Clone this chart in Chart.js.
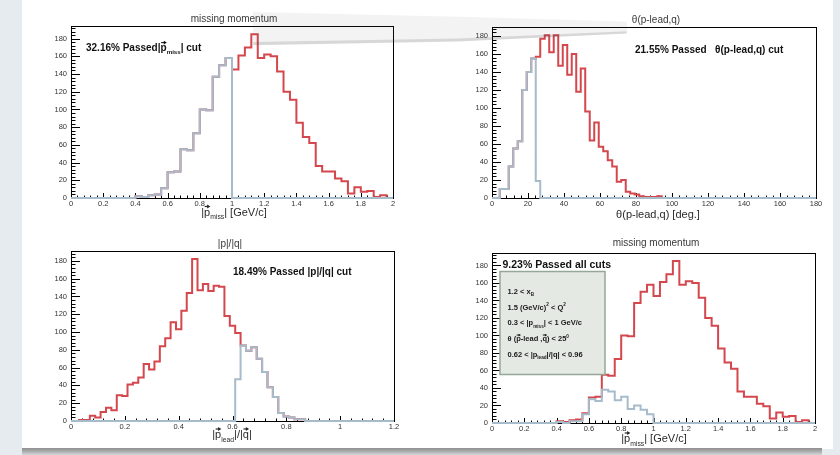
<!DOCTYPE html>
<html>
<head>
<meta charset="utf-8">
<script src="https://cdn.jsdelivr.net/npm/chart.js@4.4.1/dist/chart.umd.min.js"></script>
<style>
  html, body { margin: 0; padding: 0; }
  body { width: 840px; height: 455px; position: relative; overflow: hidden; background: #e6ebef; }
  #sheet { position: absolute; left: 22px; top: 0; width: 811px; height: 449px; background: #fff; }
  #shadow { position: absolute; left: 22px; top: 448px; width: 800px; height: 7px;
            background: linear-gradient(180deg, #8f8f8f 0%, #a9a9a9 45%, #d4d8db 100%); }
  canvas.pad { position: absolute; }
  .glare { position: absolute; left: 253px; top: 10px; width: 374px; height: 38px; pointer-events: none; }
  #glareFill { background: rgba(90,90,90,0.075);
               clip-path: polygon(0 5%, 55% 18%, 100% 30%, 100% 62%, 55% 82%, 0 92%); }
  #glareEdge { background: rgba(70,70,70,0.16); filter: blur(0.8px);
               clip-path: polygon(0 84%, 55% 75%, 100% 56%, 100% 62%, 55% 83%, 0 93%); }
</style>
</head>
<body>
<div id="sheet"></div>
<canvas class="pad" id="c1"></canvas>
<canvas class="pad" id="c2"></canvas>
<canvas class="pad" id="c3"></canvas>
<canvas class="pad" id="c4"></canvas>
<div class="glare" id="glareFill"></div>
<div class="glare" id="glareEdge"></div>
<div id="shadow"></div>
<script>
// ---------------- histogram contents ----------------
// |p_miss| [GeV/c], 0.04 GeV/c bins; first listed bin starts at 0.4
const pmissLow = 0.4;
const pmissWidth = 0.04;
const pmissAll = [2, 1, 3, 4, 11, 29, 30, 55, 54, 73,
                  100, 99, 137, 150, 158, 145, 161, 170, 185, 158,
                  162, 160, 143, 120, 111, 85, 69, 62, 36, 30,
                  30, 22, 19, 5, 12, 7, 8, 1, 3];
// events passing the |p_miss| < 1 GeV/c cut
const pmissPassMiss = [2, 1, 3, 4, 11, 29, 30, 55, 54, 73, 100, 99, 137, 150, 158];
// events passing all cuts
const pmissPassAll = [1, 0, 2, 2, 10, 27, 25, 38, 36, 26, 30, 16, 20, 15, 10];

// theta(p-lead,q) [deg], 2.5 deg bins; first listed bin starts at 4.3 deg
const thetaLow = 4.3;
const thetaWidth = 2.5;
const thetaAll = [10, 10, 35, 55, 63, 120, 140, 155, 157, 177,
                  181, 162, 181, 147, 170, 137, 160, 118, 144, 96,
                  64, 84, 57, 52, 42, 35, 18, 20, 7, 5,
                  4, 2, 1, 1, 1, 2];
const thetaPass = [10, 10, 35, 55, 63, 120, 140, 155, 19];

// |p_lead|/|q|, 0.02 bins; first listed bin starts at 0.03
const ratioLow = 0.03;
const ratioWidth = 0.02;
const ratioAll = [1, 1, 6, 4, 10, 15, 12, 29, 28, 41,
                  43, 49, 64, 58, 67, 84, 93, 111, 103, 124,
                  144, 182, 147, 154, 146, 152, 151, 118, 107, 99,
                  85, 79, 83, 70, 55, 38, 27, 9, 5, 4,
                  2, 2];
const ratioPassLow = 0.61;
const ratioPass = [47, 85, 79, 83, 70, 55, 38, 27, 9, 5, 4, 2, 2];

// axis tick settings: [major step, minor step]
const pmissTicks = [0.2, 0.04];
const thetaTicks = [20, 4];
const ratioTicks = [0.2, 0.04];
const countTicks = [20, 4];

// ---------------- drawing helpers ----------------
const FONT = '"Liberation Sans", Arial, Helvetica, sans-serif';
const RED = '#d3474d';
const BLUE = '#a7bccb';

function histPoints(low, width, counts, xmin, xmax) {
  const pts = [{ x: xmin, y: 0 }];
  counts.forEach((c, i) => pts.push({ x: low + i * width, y: c }));
  pts.push({ x: low + counts.length * width, y: 0 });
  pts.push({ x: xmax, y: 0 });
  return pts;
}

function fontStr(size, bold) { return (bold ? 'bold ' : '') + size + 'px ' + FONT; }

// text made of pieces; pieces may be subscripts, superscripts or carry a vector arrow
function drawRich(ctx, segs, x, y, o) {
  const size = o.size || 10, bold = !!o.bold;
  const items = [];
  let w = 0;
  for (const s of segs) {
    const fs = (s.sub || s.sup) ? size * 0.62 : size;
    ctx.font = fontStr(fs, bold);
    const sw = ctx.measureText(s.t).width;
    items.push({ s, fs, x: w, w: sw });
    w += sw;
  }
  const x0 = o.align === 'center' ? x - w / 2 : x;
  ctx.save();
  ctx.fillStyle = o.color || '#222';
  ctx.strokeStyle = o.color || '#222';
  ctx.textAlign = 'left';
  ctx.textBaseline = 'alphabetic';
  for (const it of items) {
    ctx.font = fontStr(it.fs, bold);
    let yy = y;
    if (it.s.sub) yy += size * 0.34;
    if (it.s.sup) yy -= size * 0.42;
    ctx.fillText(it.s.t, x0 + it.x, yy);
    if (it.s.vec) {
      const ay = y - size * 0.82;
      const ax0 = x0 + it.x + it.w * 0.1, ax1 = x0 + it.x + it.w * 0.95;
      ctx.lineWidth = Math.max(1, size * 0.11);
      ctx.beginPath(); ctx.moveTo(ax0, ay); ctx.lineTo(ax1 - 1, ay); ctx.stroke();
      ctx.beginPath();
      ctx.moveTo(ax1 + 0.5, ay);
      ctx.lineTo(ax1 - size * 0.25, ay - size * 0.18);
      ctx.lineTo(ax1 - size * 0.25, ay + size * 0.18);
      ctx.closePath(); ctx.fill();
    }
  }
  ctx.restore();
}

// frame and inward-pointing ticks, drawn before the histograms
function framePlugin(pad) {
  return {
    id: 'frame_' + pad.id,
    beforeDatasetsDraw(chart) {
      const { ctx, chartArea: a, scales } = chart;
      ctx.save();
      ctx.strokeStyle = '#000';
      ctx.lineWidth = 1;
      ctx.strokeRect(Math.round(a.left) + 0.5, Math.round(a.top) + 0.5,
                     Math.round(a.right - a.left), Math.round(a.bottom - a.top));
      ctx.beginPath();
      const xs = scales.x, ys = scales.y;
      const [xMaj, xMin] = pad.xTicks;
      const nx = Math.round((xs.max - xs.min) / xMin);
      for (let i = 0; i <= nx; i++) {
        const v = xs.min + i * xMin;
        const major = Math.abs(v / xMaj - Math.round(v / xMaj)) < 1e-6;
        const px = Math.round(xs.getPixelForValue(v)) + 0.5;
        const len = major ? 5 : 2.5;
        ctx.moveTo(px, a.bottom); ctx.lineTo(px, a.bottom - len);
      }
      const [yMaj, yMin] = countTicks;
      const ny = Math.floor(ys.max / yMin);
      for (let i = 0; i <= ny; i++) {
        const v = i * yMin;
        const major = (v % yMaj) === 0;
        const py = Math.round(ys.getPixelForValue(v)) + 0.5;
        const len = major ? 9 : 4.5;
        ctx.moveTo(a.left, py); ctx.lineTo(a.left + len, py);
      }
      ctx.stroke();
      ctx.restore();
    },
    afterDraw(chart) {
      const ctx = chart.ctx;
      const X = v => v - pad.x, Y = v => v - pad.y;
      // pad title
      drawRich(ctx, pad.title, X(pad.titleAt[0]), Y(pad.titleAt[1]), { size: 10, color: '#3a3a3a', align: 'center' });
      // axis title
      drawRich(ctx, pad.xTitle, X(pad.xTitleAt[0]), Y(pad.xTitleAt[1]), { size: 11, color: '#2a2a2a', align: 'center' });
      // statement of the cut efficiency
      drawRich(ctx, pad.note, X(pad.noteAt[0]), Y(pad.noteAt[1]), { size: pad.noteSize || 10, bold: true, color: '#111' });
      if (pad.cutsBox) {
        const b = pad.cutsBox;
        ctx.save();
        ctx.fillStyle = '#e4e9e4';
        ctx.strokeStyle = '#95a898';
        ctx.lineWidth = 1.5;
        ctx.fillRect(X(b.l), Y(b.t), b.r - b.l, b.b - b.t);
        ctx.strokeRect(X(b.l), Y(b.t), b.r - b.l, b.b - b.t);
        ctx.restore();
        b.lines.forEach((ln, i) => {
          drawRich(ctx, ln, X(b.textX), Y(b.baselines[i]), { size: 7.5, bold: true, color: '#1a1a1a' });
        });
      }
    }
  };
}

function fmtNum(v) { return String(Math.round(v * 1000) / 1000); }

function makePad(pad) {
  const el = document.getElementById(pad.id);
  el.width = pad.w; el.height = pad.h;
  el.style.left = pad.x + 'px'; el.style.top = pad.y + 'px';
  const yAxisW = pad.frame.l - pad.x;
  const xAxisH = pad.y + pad.h - pad.frame.b;
  const ymax = 1.05 * Math.max(...pad.all.counts);
  const line = (h, color) => ({
    data: histPoints(h.low, h.width, h.counts, pad.xmin, pad.xmax),
    borderColor: color, borderWidth: 2, stepped: true, pointRadius: 0,
    fill: false, tension: 0, clip: false
  });
  const tickFont = { family: FONT, size: 7.5 };
  new Chart(el, {
    type: 'line',
    data: { datasets: [ line(pad.pass, BLUE), line(pad.all, RED) ] },
    options: {
      responsive: false, animation: false, devicePixelRatio: 1, events: [],
      layout: { padding: { left: 0, top: pad.frame.t - pad.y, right: pad.x + pad.w - pad.frame.r, bottom: 0 } },
      plugins: { legend: { display: false }, tooltip: { enabled: false }, title: { display: false } },
      scales: {
        x: {
          type: 'linear', min: pad.xmin, max: pad.xmax,
          grid: { display: false, drawTicks: false }, border: { display: false },
          ticks: { stepSize: pad.xTicks[0], autoSkip: false, maxRotation: 0, minRotation: 0, includeBounds: false,
                   padding: 1, font: tickFont, color: '#333', callback: v => fmtNum(v) },
          afterFit: s => { s.height = xAxisH; }
        },
        y: {
          type: 'linear', min: 0, max: ymax,
          grid: { display: false, drawTicks: false }, border: { display: false },
          ticks: { stepSize: countTicks[0], autoSkip: false, includeBounds: false,
                   padding: 4, font: tickFont, color: '#333', callback: v => fmtNum(v) },
          afterFit: s => { s.width = yAxisW; }
        }
      }
    },
    plugins: [framePlugin(pad)]
  });
}

const P = (t, extra) => Object.assign({ t }, extra || {});
const pMissTitle = [P('|'), P('p', { vec: true }), P('miss', { sub: true }), P('| [GeV/c]')];

const pads = [
  {
    id: 'c1', x: 22, y: 0, w: 398, h: 228,
    frame: { l: 71, t: 26, r: 393, b: 198 },
    xmin: 0, xmax: 2, xTicks: pmissTicks,
    all: { low: pmissLow, width: pmissWidth, counts: pmissAll },
    pass: { low: pmissLow, width: pmissWidth, counts: pmissPassMiss },
    title: [P('missing momentum')], titleAt: [234, 21.8],
    xTitle: pMissTitle, xTitleAt: [234, 215.5],
    note: [P('32.16% Passed'), P('|'), P('p', { vec: true }), P('miss', { sub: true }), P('| cut')], noteAt: [86, 50.8]
  },
  {
    id: 'c2', x: 422, y: 0, w: 410, h: 228,
    frame: { l: 492, t: 27, r: 816, b: 198 },
    xmin: 0, xmax: 180, xTicks: thetaTicks,
    all: { low: thetaLow, width: thetaWidth, counts: thetaAll },
    pass: { low: thetaLow, width: thetaWidth, counts: thetaPass },
    title: [P('\u03b8(p-lead,q)')], titleAt: [656, 23.3],
    xTitle: [P('\u03b8(p-lead,q) [deg.]')], xTitleAt: [658, 217.8],
    note: [P('21.55% Passed   \u03b8(p-lead,q) cut')], noteAt: [635, 52.5]
  },
  {
    id: 'c3', x: 22, y: 228, w: 398, h: 222,
    frame: { l: 71, t: 251, r: 394, b: 421 },
    xmin: 0, xmax: 1.2, xTicks: ratioTicks,
    all: { low: ratioLow, width: ratioWidth, counts: ratioAll },
    pass: { low: ratioPassLow, width: ratioWidth, counts: ratioPass },
    title: [P('|p|/|q|')], titleAt: [230, 246.8],
    xTitle: [P('|'), P('p', { vec: true }), P('lead', { sub: true }), P('|/|'), P('q', { vec: true }), P('|')], xTitleAt: [232, 438],
    note: [P('18.49% Passed |p|/|q| cut')], noteAt: [233, 275.2]
  },
  {
    id: 'c4', x: 422, y: 228, w: 410, h: 222,
    frame: { l: 492, t: 253, r: 815, b: 423 },
    xmin: 0, xmax: 2, xTicks: pmissTicks,
    all: { low: pmissLow, width: pmissWidth, counts: pmissAll },
    pass: { low: pmissLow, width: pmissWidth, counts: pmissPassAll },
    title: [P('missing momentum')], titleAt: [656, 246.2],
    xTitle: pMissTitle, xTitleAt: [654, 442],
    note: [P('9.23% Passed all cuts')], noteAt: [502.5, 268], noteSize: 10.5,
    cutsBox: {
      l: 500, t: 271.5, r: 605, b: 374.5, textX: 507.5,
      baselines: [293.8, 309.5, 325.2, 341.2, 356.8],
      lines: [
        [P('1.2 < x'), P('B', { sub: true })],
        [P('1.5 (GeV/c)'), P('2', { sup: true }), P(' < Q'), P('2', { sup: true })],
        [P('0.3 < |p'), P('miss', { sub: true }), P('| < 1 GeV/c')],
        [P('\u03b8 ('), P('p', { vec: true }), P('-lead ,'), P('q', { vec: true }), P(') < 25'), P('0', { sup: true })],
        [P('0.62 < |p'), P('lead', { sub: true }), P('|/|q| < 0.96')]
      ]
    }
  }
];

pads.forEach(makePad);
</script>
</body>
</html>
